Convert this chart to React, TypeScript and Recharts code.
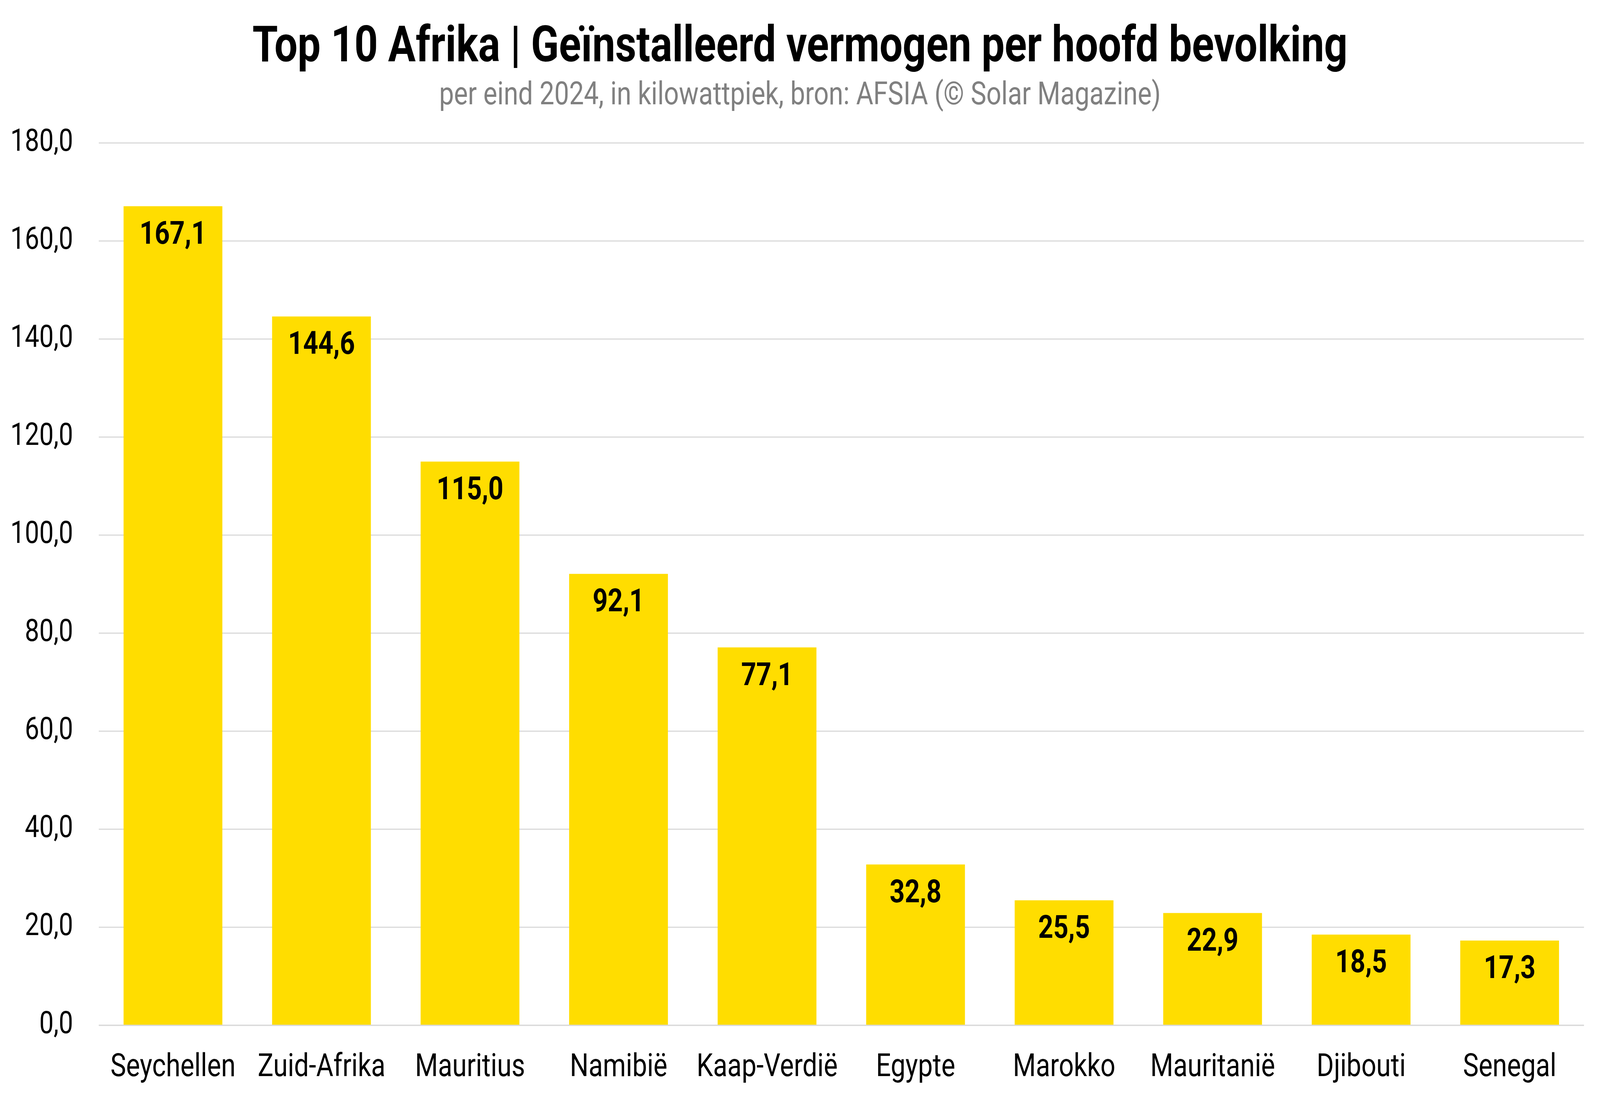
import React from 'react';
import { BarChart, Bar, XAxis, YAxis, CartesianGrid, LabelList } from 'recharts';

const countries = ['Seychellen', 'Zuid-Afrika', 'Mauritius', 'Namibië', 'Kaap-Verdië', 'Egypte', 'Marokko', 'Mauritanië', 'Djibouti', 'Senegal'];
const values = [167.1, 144.6, 115.0, 92.1, 77.1, 32.8, 25.5, 22.9, 18.5, 17.3];
const yTicks = [0, 20, 40, 60, 80, 100, 120, 140, 160, 180];
const titleText = 'Top 10 Afrika | Geïnstalleerd vermogen per hoofd bevolking';
const subtitleText = 'per eind 2024, in kilowattpiek, bron: AFSIA (© Solar Magazine)';

const data = countries.map((c, i) => ({ name: c, value: values[i] }));

const W = 4989;
const H = 2806;
const FONT = 'Roboto, "Noto Sans", sans-serif';
const fmt = (v: number) => v.toFixed(1).replace('.', ',');

export default function App() {
  const vw = typeof window !== 'undefined' ? window.innerWidth : W;
  const vh = typeof window !== 'undefined' ? window.innerHeight : H;
  const kx = vw / W;
  const ky = vh / H;
  if (typeof document !== 'undefined') {
    document.body.style.margin = '0';
    document.body.style.overflow = 'hidden';
  }
  return (
    <div style={{ position: 'fixed', left: 0, top: 0, width: vw, height: vh, overflow: 'hidden', background: '#fff' }}>
      <div style={{ position: 'absolute', left: 0, top: 0, width: W, height: H, transform: `scale(${kx}, ${ky})`, transformOrigin: '0 0', background: '#fff', fontFamily: FONT }}>
        <BarChart
          width={W}
          height={H}
          data={data}
          margin={{ top: 366, right: 50, left: 0, bottom: 31 }}
          barCategoryGap="16.7%"
        >
          <CartesianGrid vertical={false} stroke="#d9d9d9" strokeWidth={3} />
          <XAxis
            dataKey="name"
            height={150}
            tickLine={false}
            tickSize={0}
            tickMargin={72}
            axisLine={{ stroke: '#d9d9d9', strokeWidth: 3 }}
            tick={{ fill: '#000', fontSize: 82, fontFamily: FONT }}
            interval={0}
          />
          <YAxis
            width={308}
            domain={[0, 180]}
            ticks={yTicks}
            tickFormatter={fmt}
            axisLine={false}
            tickLine={false}
            tickSize={0}
            tickMargin={80}
            tick={{ fill: '#000', fontSize: 80, fontFamily: FONT, dy: -8 }}
            interval={0}
          />
          <Bar dataKey="value" fill="#FFDD00" isAnimationActive={false}>
            <LabelList
              dataKey="value"
              position="insideTop"
              offset={38}
              formatter={(v: any) => fmt(Number(v))}
              style={{ fill: '#000', fontSize: 82, fontWeight: 700, fontFamily: FONT }}
            />
          </Bar>
        </BarChart>
        <svg width={W} height={320} style={{ position: 'absolute', left: 0, top: 0, pointerEvents: 'none' }}>
          <text x={W / 2} y={157} textAnchor="middle" fontFamily={FONT} fontWeight={700} fontSize={128} fill="#000">
            {titleText}
          </text>
          <text x={W / 2} y={267} textAnchor="middle" fontFamily={FONT} fontSize={82} fill="#808080">
            {subtitleText}
          </text>
        </svg>
      </div>
    </div>
  );
}
